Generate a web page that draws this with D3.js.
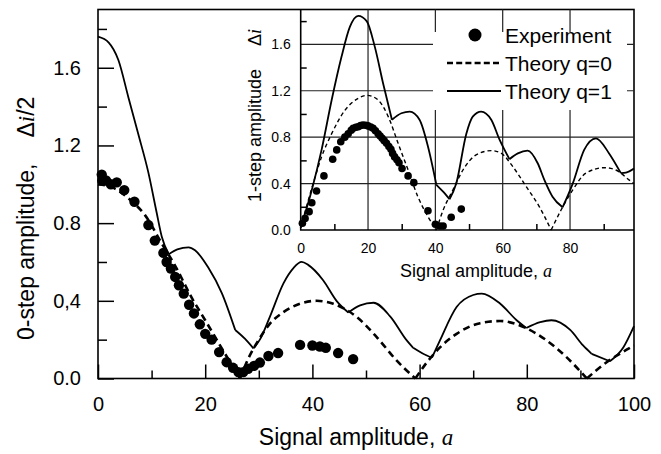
<!DOCTYPE html>
<html>
<head>
<meta charset="utf-8">
<script src="https://cdn.jsdelivr.net/npm/d3@7"></script>
<style>
  body { margin: 0; background: #fff; }
  text { font-family: "Liberation Sans", Arial, sans-serif; fill: #000; }
  .it { font-family: "Liberation Serif", "Times New Roman", serif; font-style: italic; }
</style>
</head>
<body>
<svg id="chart" width="661" height="454"></svg>
<script>
// main plot: 0-step amplitude
const mainExp = [[0.7,1.05],[0.8,1.02],[1.5,1.02],[2.4,1.0],[3.5,1.01],[4.9,0.97],[6.8,0.91],
  [9.4,0.79],[10.6,0.71],[12.2,0.647],[12.8,0.60],[13.6,0.566],[14.4,0.523],[15.1,0.48],[16.0,0.437],
  [17.0,0.38],[17.9,0.335],[19.0,0.279],[20.0,0.23],[21.2,0.20],[22.6,0.136],[24.0,0.084],[25.2,0.055],
  [26.2,0.033],[27.1,0.033],[28.0,0.05],[29.1,0.065],[30.2,0.082],[31.8,0.116],[33.6,0.131],
  [37.7,0.173],[40.0,0.17],[41.4,0.165],[42.5,0.158],[44.8,0.131],[47.6,0.10]];

const mainQ0 = [[0,1.0],[3,0.98],[6,0.92],[8.8,0.84],[11.9,0.695],[14.4,0.58],[17.5,0.415],[20,0.30],
  [23.1,0.155],[26.5,0],[28,0.10],[30,0.20],[32,0.28],[34.5,0.34],[37.7,0.385],[40.8,0.40],[43.9,0.385],
  [48.3,0.316],[52,0.213],[55.7,0.093],[59.2,0],[61,0.07],[63.8,0.16],[66.9,0.23],[71.3,0.285],
  [75,0.296],[79.4,0.265],[83.7,0.196],[87.4,0.11],[91.2,0],[94.9,0.084],[97.5,0.13],[100,0.17]];
const mainQ0Corners = [26.5, 59.2, 91.2];

const mainQ1 = [[0,1.76],[2,1.73],[3.8,1.64],[5.65,1.45],[7.5,1.26],[9.4,1.06],[10.9,0.86],[11.9,0.73],
  [13.2,0.64],[14.8,0.665],[16.9,0.675],[18.1,0.66],[20.6,0.57],[23.1,0.44],[25.6,0.25],[27.4,0.205],
  [29.0,0.155],[30.2,0.20],[32.1,0.32],[34.6,0.49],[36.5,0.57],[38,0.6],[39.2,0.585],[42,0.506],
  [44.5,0.40],[46.7,0.34],[48.9,0.377],[51.4,0.39],[54.5,0.32],[57.6,0.196],[58.8,0.158],[60.5,0.13],
  [62.3,0.107],[63.8,0.196],[66.9,0.368],[70,0.43],[71.6,0.437],[75,0.386],[78.1,0.30],[79.9,0.26],
  [82.5,0.29],[84.6,0.30],[88.1,0.25],[90.5,0.17],[92.1,0.127],[95.5,0.089],[98,0.16],[100,0.27]];
const mainQ1Corners = [13.2, 25.6, 29.0, 46.7, 58.8, 62.3, 79.9, 92.1, 95.5];

const mainXTicks = [0, 20, 40, 60, 80, 100];
const mainYTicks = [0, 0.4, 0.8, 1.2, 1.6];
const mainYTickLabels = ["0.0", "0,4", "0.8", "1.2", "1.6"];

// inset: 1-step amplitude
const insetExp = [[0.5,0.058],[1.3,0.10],[2.5,0.158],[3.3,0.235],[4.7,0.336],[6.9,0.466],[9.5,0.61],
  [10.7,0.69],[11.9,0.76],[13.1,0.80],[14.1,0.83],[15.0,0.86],[15.6,0.877],[16.4,0.885],[17.1,0.89],
  [17.8,0.90],[18.5,0.905],[19.3,0.902],[20,0.897],[20.8,0.888],[21.5,0.877],[22.2,0.855],[23,0.83],
  [23.6,0.81],[24.2,0.79],[24.8,0.77],[25.5,0.747],[26.2,0.72],[26.8,0.695],[27.3,0.66],[27.9,0.63],
  [28.6,0.605],[29.2,0.58],[30.1,0.53],[31.9,0.466],[33.6,0.408],[37.8,0.166],[40.0,0.05],
  [41.3,0.034],[42.3,0.034],[44.7,0.11],[47.7,0.18]];

const insetQ0 = [[0,0.02],[3.7,0.40],[6.2,0.63],[9.2,0.83],[13.1,1.03],[17.1,1.135],[19.8,1.16],[23,1.12],
  [26,0.977],[28.9,0.75],[31.9,0.517],[34.8,0.287],[37.8,0.115],[40.3,0],[42.3,0.17],[45.2,0.345],
  [48.2,0.517],[52.1,0.647],[56.6,0.684],[59.6,0.66],[63,0.546],[67,0.373],[70.9,0.20],[74.4,0],
  [77.3,0.17],[80.8,0.345],[84.7,0.49],[90.2,0.537],[93.6,0.517],[97.6,0.43],[99,0.40]];
const insetQ0Corners = [40.3, 74.4];

const insetQ1 = [[0,0.02],[3.3,0.345],[6.2,0.69],[9.2,1.12],[12.1,1.49],[14.6,1.75],[17.1,1.845],
  [19.6,1.80],[22,1.58],[24.5,1.26],[27.1,0.95],[29.9,1.006],[32.4,1.02],[35.3,0.95],[37.8,0.72],
  [40.3,0.39],[42.3,0.33],[44.2,0.265],[46.2,0.40],[49.2,0.83],[51.1,0.977],[53.6,1.02],[56.6,0.95],
  [59.1,0.776],[62,0.61],[64.5,0.66],[67.4,0.684],[70.4,0.575],[72.4,0.43],[74.8,0.287],[77.8,0.196],
  [80.8,0.40],[84.2,0.69],[87.7,0.79],[91.6,0.66],[95.1,0.49],[96.6,0.494],[99,0.53]];
const insetQ1Corners = [27.1, 40.3, 44.2, 62, 77.8, 95.1];

const insetXTicks = [0, 20, 40, 60, 80];
const insetYTicks = [0, 0.4, 0.8, 1.2, 1.6];

const legendItems = ["Experiment", "Theory q=0", "Theory q=1"];

const svg = d3.select("#chart");

const x = d3.scaleLinear().domain([0, 100]).range([98, 634]);
const y = d3.scaleLinear().domain([0, 1.9]).range([378.5, 9.5]);
const xi = d3.scaleLinear().domain([0, 99]).range([300.7, 634]);
const yi = d3.scaleLinear().domain([0, 1.9]).range([230, 9.5]);

// split a series into pieces at sharp corners so the smoothing keeps the kinks
function pieces(pts, corners) {
  const out = [];
  let cur = [];
  pts.forEach(p => {
    cur.push(p);
    if (corners.includes(p[0]) && cur.length > 1) { out.push(cur); cur = [p]; }
  });
  if (cur.length > 1) out.push(cur);
  return out;
}

function drawCurve(g, pts, corners, sx, sy, width, dash) {
  const line = d3.line().x(d => sx(d[0])).y(d => sy(d[1])).curve(d3.curveMonotoneX);
  g.selectAll(null)
    .data(pieces(pts, corners))
    .enter()
    .append("path")
    .attr("d", line)
    .attr("fill", "none")
    .attr("stroke", "#000")
    .attr("stroke-width", width)
    .attr("stroke-dasharray", dash);
}

function styleAxis(g, size) {
  g.select(".domain").remove();
  g.selectAll(".tick line").attr("stroke", "#000").attr("stroke-width", 1.5);
  g.selectAll(".tick text").attr("font-size", size).attr("fill", "#000");
}

// ---- main axes
svg.append("g")
  .attr("transform", `translate(0,${y(0)})`)
  .call(d3.axisBottom(x).tickValues(mainXTicks).tickSizeInner(-14).tickSizeOuter(0).tickPadding(18))
  .call(g => styleAxis(g, 20))
  .call(g => g.selectAll("text").attr("font-family", "Liberation Sans, Arial, sans-serif"));

svg.append("g")
  .attr("transform", `translate(0,${y(0)})`)
  .call(d3.axisBottom(x).tickValues([10, 30, 50, 70, 90]).tickSizeInner(-8).tickSizeOuter(0).tickFormat(""))
  .call(g => styleAxis(g, 20));

svg.append("g")
  .attr("transform", `translate(${x(0)},0)`)
  .call(d3.axisLeft(y).tickValues(mainYTicks).tickSizeInner(-16).tickSizeOuter(0).tickPadding(17)
    .tickFormat((d, i) => mainYTickLabels[i]))
  .call(g => styleAxis(g, 20));

svg.append("g")
  .attr("transform", `translate(${x(0)},0)`)
  .call(d3.axisLeft(y).tickValues([0.2, 0.6, 1.0, 1.4, 1.8]).tickSizeInner(-9).tickSizeOuter(0).tickFormat(""))
  .call(g => styleAxis(g, 20));

svg.append("rect")
  .attr("x", x(0)).attr("y", y(1.9))
  .attr("width", x(100) - x(0)).attr("height", y(0) - y(1.9))
  .attr("fill", "none").attr("stroke", "#000").attr("stroke-width", 1.6);

svg.append("text")
  .attr("x", 356).attr("y", 445)
  .attr("text-anchor", "middle")
  .attr("font-size", 23)
  .call(t => {
    t.append("tspan").text("Signal amplitude, ");
    t.append("tspan").attr("class", "it").text("a");
  });

svg.append("text")
  .attr("transform", "translate(34,340) rotate(-90)")
  .attr("font-size", 23)
  .call(t => {
    t.append("tspan").text("0-step amplitude,");
    t.append("tspan").attr("dx", 26).text("Δ");
    t.append("tspan").attr("class", "it").text("i");
    t.append("tspan").text("/2");
  });

// ---- inset axes and grid
const inset = svg.append("g");

inset.selectAll(".hgrid")
  .data([0.4, 0.8, 1.2, 1.6])
  .enter().append("line")
  .attr("x1", xi(0)).attr("x2", xi(99))
  .attr("y1", d => yi(d)).attr("y2", d => yi(d))
  .attr("stroke", "#222").attr("stroke-width", 1.2);

inset.selectAll(".vgrid")
  .data([20, 40, 60, 80])
  .enter().append("line")
  .attr("x1", d => xi(d)).attr("x2", d => xi(d))
  .attr("y1", yi(0)).attr("y2", yi(1.9))
  .attr("stroke", "#222").attr("stroke-width", 1.2);

inset.append("g")
  .attr("transform", `translate(0,${yi(0)})`)
  .call(d3.axisBottom(xi).tickValues(insetXTicks).tickSizeInner(0).tickSizeOuter(0).tickPadding(13))
  .call(g => styleAxis(g, 14));

inset.append("g")
  .attr("transform", `translate(0,${yi(0)})`)
  .call(d3.axisBottom(xi).tickValues([10, 30, 50, 70, 90]).tickSizeInner(-6).tickSizeOuter(0).tickFormat(""))
  .call(g => styleAxis(g, 14));

inset.append("g")
  .attr("transform", `translate(${xi(0)},0)`)
  .call(d3.axisLeft(yi).tickValues(insetYTicks).tickSizeInner(0).tickSizeOuter(0).tickPadding(10)
    .tickFormat(d3.format(".1f")))
  .call(g => styleAxis(g, 14));

inset.append("g")
  .attr("transform", `translate(${xi(0)},0)`)
  .call(d3.axisLeft(yi).tickValues([0.2, 0.6, 1.0, 1.4, 1.8]).tickSizeInner(-6).tickSizeOuter(0).tickFormat(""))
  .call(g => styleAxis(g, 14));

inset.append("path")
  .attr("d", `M${xi(0)},${yi(1.9)}V${yi(0)}H${xi(99)}`)
  .attr("fill", "none").attr("stroke", "#000").attr("stroke-width", 1.6);

inset.append("text")
  .attr("x", 476).attr("y", 277)
  .attr("text-anchor", "middle")
  .attr("font-size", 18)
  .call(t => {
    t.append("tspan").text("Signal amplitude, ");
    t.append("tspan").attr("class", "it").text("a");
  });

inset.append("text")
  .attr("transform", "translate(261,202) rotate(-90)")
  .attr("font-size", 18)
  .call(t => {
    t.append("tspan").text("1-step amplitude");
    t.append("tspan").attr("dx", 23).text("Δ");
    t.append("tspan").attr("class", "it").text("i");
  });

// legend background hides the grid behind it
svg.append("rect")
  .attr("x", 433).attr("y", 32).attr("width", 194).attr("height", 78)
  .attr("fill", "#fff");

// ---- curves and points
const curves = svg.append("g");
drawCurve(curves, mainQ0, mainQ0Corners, x, y, 2.6, "7,4.5");
drawCurve(curves, mainQ1, mainQ1Corners, x, y, 1.8, null);
drawCurve(curves, insetQ0, insetQ0Corners, xi, yi, 1.4, "4,3");
drawCurve(curves, insetQ1, insetQ1Corners, xi, yi, 1.8, null);

svg.append("g").selectAll("circle")
  .data(mainExp)
  .enter().append("circle")
  .attr("cx", d => x(d[0])).attr("cy", d => y(d[1]))
  .attr("r", 5.2).attr("fill", "#000");

svg.append("g").selectAll("circle")
  .data(insetExp)
  .enter().append("circle")
  .attr("cx", d => xi(d[0])).attr("cy", d => yi(d[1]))
  .attr("r", 3.8).attr("fill", "#000");

// ---- legend
const legend = svg.append("g");
const legY = [35, 63, 91];

legend.append("circle").attr("cx", 475).attr("cy", legY[0]).attr("r", 6.5).attr("fill", "#000");
legend.append("line").attr("x1", 447).attr("x2", 501).attr("y1", legY[1]).attr("y2", legY[1])
  .attr("stroke", "#000").attr("stroke-width", 2.6).attr("stroke-dasharray", "6,3.2");
legend.append("line").attr("x1", 447).attr("x2", 501).attr("y1", legY[2]).attr("y2", legY[2])
  .attr("stroke", "#000").attr("stroke-width", 1.8);

legend.selectAll("text")
  .data(legendItems)
  .enter().append("text")
  .attr("x", 505)
  .attr("y", (d, i) => legY[i])
  .attr("dy", "0.36em")
  .attr("font-size", 21)
  .text(d => d);
</script>
</body>
</html>
